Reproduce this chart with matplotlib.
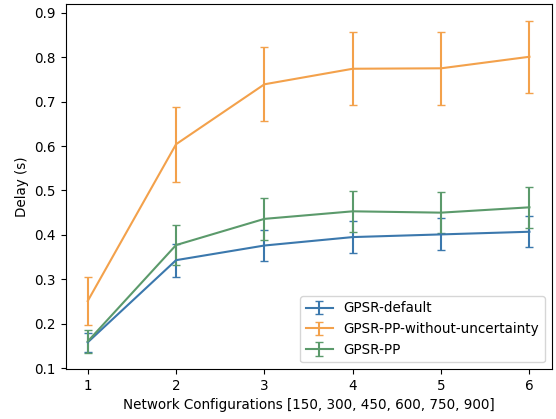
import matplotlib
matplotlib.use('Agg')
import matplotlib.pyplot as plt

# Network configurations (x positions 1..6)
configs = [1, 2, 3, 4, 5, 6]

# Mean delay (s) and error bars
gpsr_default = [0.158, 0.343, 0.376, 0.395, 0.401, 0.407]
gpsr_default_err = [0.021, 0.037, 0.035, 0.036, 0.036, 0.035]

gpsr_pp_no_unc = [0.251, 0.604, 0.739, 0.774, 0.775, 0.801]
gpsr_pp_no_unc_err = [0.055, 0.084, 0.083, 0.082, 0.082, 0.081]

gpsr_pp = [0.160, 0.377, 0.436, 0.453, 0.450, 0.462]
gpsr_pp_err = [0.025, 0.046, 0.047, 0.046, 0.046, 0.046]

labels = ['GPSR-default', 'GPSR-PP-without-uncertainty', 'GPSR-PP']
colors = ['#3b78ad', '#f3a14b', '#5b9a6b']


def main():
    plt.rcParams['font.size'] = 9.75
    fig = plt.figure(figsize=(5.56, 4.19), dpi=100)
    ax = fig.add_subplot(111)
    fig.subplots_adjust(left=0.118, right=0.992, top=0.990, bottom=0.119)

    series = [(gpsr_default, gpsr_default_err),
              (gpsr_pp_no_unc, gpsr_pp_no_unc_err),
              (gpsr_pp, gpsr_pp_err)]

    for (vals, errs), label, color in zip(series, labels, colors):
        ax.errorbar(configs, vals, yerr=errs, label=label, color=color,
                    capsize=3, linewidth=1.5)

    ax.set_xlabel('Network Configurations [150, 300, 450, 600, 750, 900]')
    ax.set_ylabel('Delay (s)')
    ax.set_xticks(configs)
    ax.legend(loc='lower right')

    fig.savefig('out.png', dpi=100)


if __name__ == '__main__':
    main()
